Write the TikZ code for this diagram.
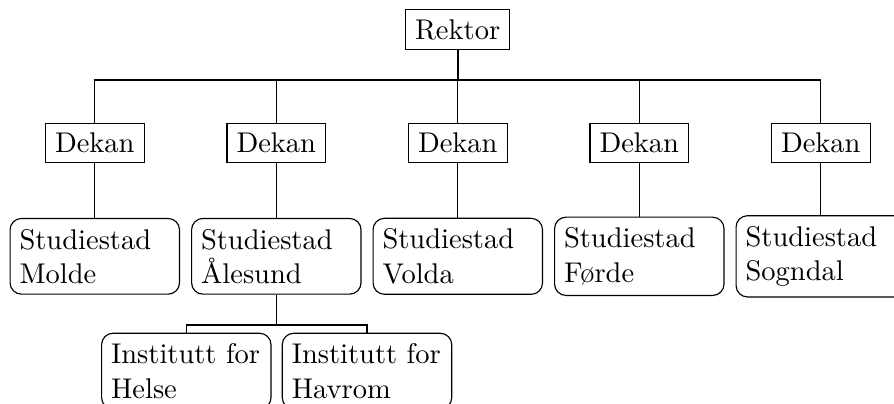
\documentclass[tikz,border=0pt]{standalone}
\begin{document}
\begin{tikzpicture}[x=0.3509pt, y=-0.3509pt, line width=0.4pt,
  boss/.style={draw, rectangle, inner sep=3.33pt},
  unit/.style={draw, rectangle, rounded corners=4pt, inner xsep=3.33pt, inner ysep=3.7pt, text width=52.8pt, align=left}]
\useasboundingbox (0,0) rectangle (894,403);
\clip (0,0) rectangle (894,403);
\node[boss] (rektor) at (457.6,29.5) {Rektor};
\node[boss] (d1) at (94.8,142.8) {Dekan};
\node[boss] (d2) at (276.3,142.8) {Dekan};
\node[boss] (d3) at (457.8,142.8) {Dekan};
\node[boss] (d4) at (639.3,142.8) {Dekan};
\node[boss] (d5) at (820.8,142.8) {Dekan};
\node[unit] (s1) at (94.8,256.3) {Studiestad\\Molde};
\node[unit] (s2) at (276.3,256.3) {Studiestad\\Ålesund};
\node[unit] (s3) at (457.8,256.3) {Studiestad\\Volda};
\node[unit] (s4) at (639.3,256.3) {Studiestad\\Førde};
\node[unit] (s5) at (820.8,256.3) {Studiestad\\Sogndal};
\node[unit, anchor=north] (i1) at (186.3,332.7) {Institutt for\\Helse};
\node[unit, anchor=north] (i2) at (367,332.7) {Institutt for\\Havrom};
\coordinate (fk1) at (457.6,80);
\coordinate (fk2) at (276.3,325);
% Rektor to Dekan
\draw[line width=0.7pt] (rektor.south) -- (fk1);
\draw (d1.north) |- (fk1) -| (d5.north);
\foreach \k in {2,3,4} {
  \draw (d\k.north) -- (d\k.north |- fk1);
}
\foreach \k in {1,...,5} {
  \draw (d\k.south) -- (s\k.north);
}
% Ålesund to Institutt
\draw (s2.south) -- (fk2);
\draw (i1.north) |- (fk2) -| (i2.north);
\end{tikzpicture}
\end{document}
